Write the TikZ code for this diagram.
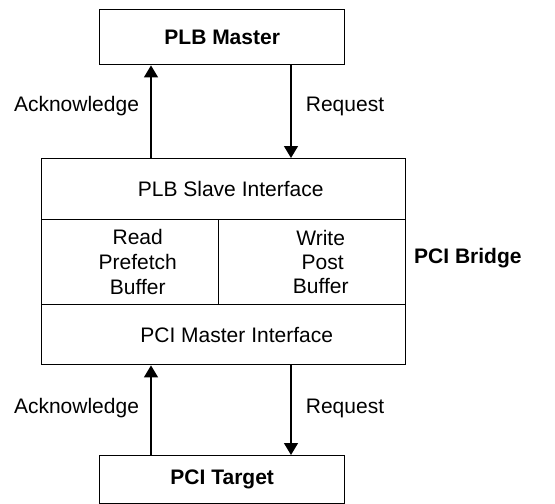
\documentclass[tikz,border=0pt]{standalone}
\usepackage{fontspec}
\setmainfont{Liberation Sans}
\usetikzlibrary{arrows.meta}
\begin{document}
\begin{tikzpicture}[x=1pt,y=-1pt,
  every node/.style={font=\fontsize{21}{25}\selectfont},
  box/.style={draw,line width=1.4pt,inner sep=0pt,anchor=north west},
  arr/.style={line width=1.4pt,-{Triangle[width=14pt,length=12pt]}},
  lbl/.style={inner sep=0pt}]
\useasboundingbox (0,0) rectangle (555,504);
\node[box,minimum width=245pt,minimum height=55pt,font=\fontsize{21}{25}\selectfont\bfseries] (master) at (99,9) {PLB Master};
\node[box,minimum width=364pt,minimum height=61pt] (slave) at (41,158) {\hspace*{14pt}PLB Slave Interface};
\node[box,minimum width=177pt,minimum height=85pt,align=center] (read) at (41,219) {\hspace*{15pt}Read\\\hspace*{15pt}Prefetch\\\hspace*{15pt}Buffer};
\node[box,minimum width=187pt,minimum height=85pt,align=center] (write) at (218,219) {\hspace*{17pt}Write\\[-1pt]\hspace*{21pt}Post\\[-1pt]\hspace*{17pt}Buffer};
\node[box,minimum width=364pt,minimum height=60pt] (pmi) at (41,304) {\hspace*{26pt}PCI Master Interface};
\node[box,minimum width=245pt,minimum height=48pt,font=\fontsize{21}{25}\selectfont\bfseries] (target) at (99,455) {PCI Target};
\node[lbl,anchor=west,font=\fontsize{21}{25}\selectfont\bfseries] (bridge) at (414,258) {PCI Bridge};
\coordinate (a1) at ([xshift=52pt]master.south west);
\coordinate (r1) at ([xshift=192pt]master.south west);
\coordinate (a2) at ([xshift=52pt]target.north west);
\coordinate (r2) at ([xshift=192pt]target.north west);
\draw[arr] (slave.north -| a1) -- (a1);
\draw[arr] (r1) -- (slave.north -| r1);
\draw[arr] (a2) -- (pmi.south -| a2);
\draw[arr] (pmi.south -| r2) -- (r2);
\node[lbl] (ack1) at (76.5,106) {Acknowledge};
\node[lbl] (req1) at (345,106) {Request};
\node[lbl] (ack2) at (76.5,408) {Acknowledge};
\node[lbl] (req2) at (345,408) {Request};
\end{tikzpicture}
\end{document}
